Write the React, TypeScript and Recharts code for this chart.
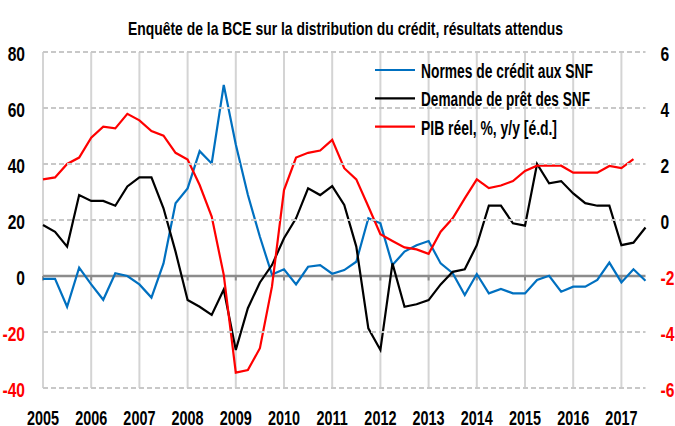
import React from 'react';
import { LineChart, Line, XAxis, YAxis, ReferenceLine, Legend } from 'recharts';

const quarters = [
  '2005T1','2005T2','2005T3','2005T4','2006T1','2006T2','2006T3','2006T4',
  '2007T1','2007T2','2007T3','2007T4','2008T1','2008T2','2008T3','2008T4',
  '2009T1','2009T2','2009T3','2009T4','2010T1','2010T2','2010T3','2010T4',
  '2011T1','2011T2','2011T3','2011T4','2012T1','2012T2','2012T3','2012T4',
  '2013T1','2013T2','2013T3','2013T4','2014T1','2014T2','2014T3','2014T4',
  '2015T1','2015T2','2015T3','2015T4','2016T1','2016T2','2016T3','2016T4',
  '2017T1','2017T2','2017T3',
];

const normes = [
  -1, -1, -11, 3, -3, -8.5, 1, 0, -3, -7.7, 4.5, 26,
  31.3, 44.6, 40.2, 68.2, 47, 29, 14, 0.5, 2.4, -3, 3.3, 3.9,
  0.8, 2.1, 5.1, 20.6, 18.8, 3.9, 8.7, 11, 12.5, 4.5, 1, -6.8,
  0.7, -6.2, -4.6, -6.2, -6.2, -1.4, 0.1, -5.6, -3.8, -3.8, -1.4, 4.8,
  -2.3, 2.4, -1.7,
];

const demande = [
  18.2, 15.8, 10.5, 28.9, 26.8, 26.8, 25.1, 32, 35.2, 35.2, 24.2, 8.7,
  -8.6, -11, -13.9, -4.8, -26.4, -11.5, -2.3, 3.9, 13.5, 20.6, 31.3, 28.9,
  32.1, 25.4, 10.5, -18.7, -26.4, 4.5, -11, -10.1, -8.6, -3, 1.5, 2.4,
  11, 25.1, 25.1, 18.8, 18, 40, 33.1, 33.9, 29.5, 26, 25.1, 25.1,
  11, 11.9, 17.3,
];

const pib = [
  1.45, 1.52, 2.0, 2.23, 2.94, 3.33, 3.27, 3.79, 3.56, 3.18, 3.01, 2.4,
  2.16, 1.25, 0.12, -1.96, -5.45, -5.36, -4.58, -2.38, 1.07, 2.23, 2.4, 2.48,
  2.86, 1.85, 1.45, 0.48, -0.51, -0.75, -0.98, -1.05, -1.21, -0.42, 0.06, 0.77,
  1.45, 1.14, 1.23, 1.39, 1.75, 1.94, 1.94, 1.94, 1.69, 1.69, 1.69, 1.93,
  1.85, 2.17, null,
];

const yearTicks = [
  '2005T1','2006T1','2007T1','2008T1','2009T1','2010T1','2011T1',
  '2012T1','2013T1','2014T1','2015T1','2016T1','2017T1',
];
const leftTicks = [-40, -20, 0, 20, 40, 60, 80];
const rightTicks = [-6, -4, -2, 0, 2, 4, 6];

const titleText = 'Enquête de la BCE sur la distribution du crédit, résultats attendus';
const seriesNames = {
  normes: 'Normes de crédit aux SNF',
  demande: 'Demande de prêt des SNF',
  pib: 'PIB réel, %, y/y [é.d.]',
};
const legendOrder = [seriesNames.normes, seriesNames.demande, seriesNames.pib];
const legendWidths: Record<string, number> = {
  [seriesNames.normes]: 172,
  [seriesNames.demande]: 169,
  [seriesNames.pib]: 136,
};

const data = quarters.map((q, i) => ({ q, normes: normes[i], demande: demande[i], pib: pib[i] }));

const FONT = "'Liberation Sans', Arial, sans-serif";
const GRID = '#D4D4D4';
const GRID_DASH = '#C8C8C8';
const CHART_W = 675;
const LEFT_W = 43;
const RIGHT_W = 29.5;
const LEFT_MARGIN = 18;
const PLOT_W = CHART_W - LEFT_W - RIGHT_W;

const YTick = (props: any) => {
  const { x, y, payload, textAnchor } = props;
  return (
    <g transform={`translate(${x},${y}) scale(0.78,1)`}>
      <text x={0} y={0} dy={9} textAnchor={textAnchor} fill={payload.value < 0 ? '#FF0000' : '#000000'}
        fontSize={20} fontWeight="bold" fontFamily={FONT}>
        {payload.value}
      </text>
    </g>
  );
};

const LeftTick = (props: any) => {
  const { x, y, payload } = props;
  return (
    <g>
      {payload.value !== 0 && (
        <line x1={x + LEFT_MARGIN} x2={x + LEFT_MARGIN + PLOT_W} y1={y} y2={y} stroke={GRID_DASH} strokeWidth={2}
          strokeDasharray="5 3" />
      )}
      <YTick {...props} />
    </g>
  );
};

const XTick = (props: any) => {
  const { x, y, payload } = props;
  return (
    <g transform={`translate(${x},${y}) scale(0.74,1)`}>
      <text x={0} y={0} dy={15} textAnchor="middle" fill="#000000" fontSize={19.5} fontWeight="bold" fontFamily={FONT}>
        {String(payload.value).slice(0, 4)}
      </text>
    </g>
  );
};

const LegendContent = (props: any) => {
  const payload = [...(props.payload || [])].sort(
    (a: any, b: any) => legendOrder.indexOf(a.value) - legendOrder.indexOf(b.value)
  );
  return (
    <svg width={240} height={90} style={{ display: 'block' }}>
      {payload.map((p: any, i: number) => (
        <g key={p.value} transform={`translate(0, ${i * 28.3})`}>
          <line x1={5} x2={45} y1={15} y2={15} stroke={p.color} strokeWidth={2.2} />
          <text x={51} y={23} fontSize={20} fontWeight="bold" fontFamily={FONT} fill="#000"
            textLength={legendWidths[p.value]} lengthAdjust="spacingAndGlyphs">
            {p.value}
          </text>
        </g>
      ))}
    </svg>
  );
};

export default function App() {
  return (
    <div style={{ position: 'absolute', left: 0, top: 0, width: 675, height: 426, background: '#fff' }}>
      <svg width={675} height={45} style={{ position: 'absolute', left: 0, top: 0 }}>
        <text x={128} y={35} fontSize={19} fontWeight="bold" fontFamily={FONT} fill="#000"
          textLength={435} lengthAdjust="spacingAndGlyphs">
          {titleText}
        </text>
      </svg>
      <LineChart width={CHART_W} height={426} data={data} margin={{ top: 52, right: 0, bottom: 0, left: 0 }}>
        <XAxis xAxisId="x" dataKey="q" ticks={yearTicks} interval={0} height={38} axisLine={false} tickLine={false}
          tickSize={0} tickMargin={22} tick={<XTick />} />
        <YAxis yAxisId="left" orientation="left" width={LEFT_W} domain={[-40, 80]} ticks={leftTicks} axisLine={false}
          tickLine={false} tickSize={0} tickMargin={LEFT_MARGIN} tick={<LeftTick />} />
        <YAxis yAxisId="right" orientation="right" width={RIGHT_W} domain={[-6, 6]} ticks={rightTicks} axisLine={false}
          tickLine={false} tickSize={0} tickMargin={15} tick={<YTick />} />
        {yearTicks.map((t) => (
          <ReferenceLine key={`v${t}`} xAxisId="x" yAxisId="left" x={t} stroke={GRID} strokeWidth={2} />
        ))}
        <ReferenceLine yAxisId="left" xAxisId="x" y={0} stroke="#8C8C8C" strokeWidth={2.7} />
        {yearTicks.map((t) => (
          <ReferenceLine key={`t${t}`} xAxisId="x" yAxisId="left" ifOverflow="visible"
            segment={[{ x: t, y: 0 }, { x: t, y: -1.6 }]} stroke="#8C8C8C" strokeWidth={2} />
        ))}
        <Line xAxisId="x" yAxisId="left" dataKey="normes" name={seriesNames.normes} stroke="#0070C0" strokeWidth={2.2}
          dot={false} isAnimationActive={false} />
        <Line xAxisId="x" yAxisId="left" dataKey="demande" name={seriesNames.demande} stroke="#000000" strokeWidth={2.2}
          dot={false} isAnimationActive={false} />
        <Line xAxisId="x" yAxisId="right" dataKey="pib" name={seriesNames.pib} stroke="#FF0000" strokeWidth={2.2}
          dot={false} isAnimationActive={false} connectNulls={false} />
        <Legend layout="vertical" align="center" verticalAlign="middle" content={<LegendContent />}
          wrapperStyle={{ left: 370, top: 55, width: 240, height: 90 }} />
      </LineChart>
    </div>
  );
}
